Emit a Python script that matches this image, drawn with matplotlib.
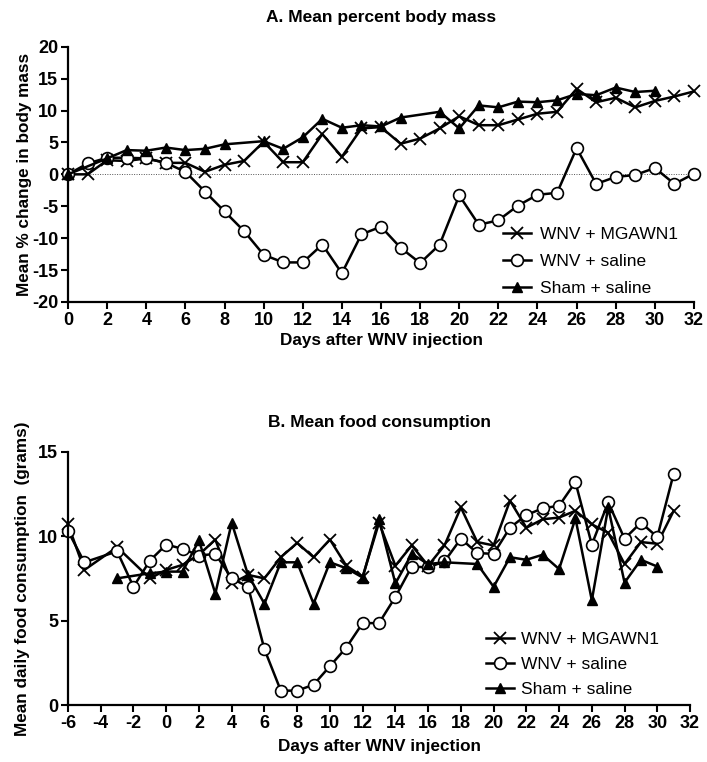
import matplotlib
matplotlib.use("Agg")
import matplotlib.pyplot as plt

plt.rcParams.update({
    "font.family": ["Liberation Sans", "DejaVu Sans"],
    "font.size": 12,
    "axes.linewidth": 1.6,
    "axes.unicode_minus": False,
})

# ---- Panel A: mean % change in body mass ----
A_MG_DAYS = list(range(0, 33))
A_MG_VALS = [0, 0, 2.2, 2.1, 2.5, 1.8, 1.8, 0.4, 1.5, 2.1, 5.1, 1.9, 1.9, 6.3, 2.75, 7.2,
             7.4, 4.8, 5.6, 7.2, 9.1, 7.7, 7.7, 8.6, 9.5, 9.8, 13.4, 11.3, 12.0, 10.5,
             11.5, 12.2, 13.0]

A_SAL_DAYS = list(range(0, 33))
A_SAL_VALS = [0, 1.7, 2.6, 2.6, 2.5, 1.8, 0.4, -2.7, -5.8, -8.9, -12.6, -13.8, -13.8,
              -11.0, -15.5, -9.4, -8.2, -11.5, -13.9, -11.0, -3.3, -7.9, -7.2, -4.9,
              -3.2, -2.9, 4.1, -1.5, -0.4, -0.1, 1.0, -1.5, 0.1]

A_SHAM_DAYS = [0, 2, 3, 4, 5, 6, 7, 8, 10, 11, 12, 13, 14, 15, 16, 17, 19, 20, 21, 22,
               23, 24, 25, 26, 27, 28, 29, 30]
A_SHAM_VALS = [0, 2.5, 3.8, 3.7, 4.2, 3.8, 4.0, 4.7, 5.2, 4.0, 5.8, 8.7, 7.3, 7.7, 7.5,
               8.9, 9.8, 7.2, 10.8, 10.5, 11.4, 11.3, 11.6, 12.6, 12.4, 13.6, 12.9, 13.1]

# ---- Panel B: mean daily food consumption ----
B_MG_DAYS = [-6, -5, -3, -1, 0, 1, 2, 3, 4, 5, 6, 7, 8, 9, 10, 11, 12, 13, 14, 15, 16,
             17, 18, 19, 20, 21, 22, 23, 24, 25, 26, 27, 28, 29, 30, 31]
B_MG_VALS = [10.7, 8.0, 9.35, 7.5, 8.0, 8.3, 8.9, 9.8, 7.2, 7.7, 7.5, 8.75, 9.6, 8.75,
             9.8, 8.25, 7.6, 10.8, 8.25, 9.45, 8.25, 9.45, 11.7, 9.65, 9.45, 12.1, 10.5,
             11.0, 11.1, 11.5, 10.7, 10.2, 8.35, 9.65, 9.55, 11.5]

B_SAL_DAYS = [-6, -5, -3, -2, -1, 0, 1, 2, 3, 4, 5, 6, 7, 8, 9, 10, 11, 12, 13, 14, 15,
              16, 17, 18, 19, 20, 21, 22, 23, 24, 25, 26, 27, 28, 29, 30, 31]
B_SAL_VALS = [10.3, 8.45, 9.1, 7.0, 8.55, 9.5, 9.25, 8.85, 8.95, 7.5, 7.0, 3.3, 0.85,
              0.85, 1.2, 2.3, 3.4, 4.85, 4.85, 6.4, 8.2, 8.15, 8.5, 9.85, 9.0, 8.95,
              10.5, 11.25, 11.65, 11.8, 13.2, 9.5, 12.0, 9.85, 10.8, 9.95, 13.7]

B_SHAM_DAYS = [-3, -1, 0, 1, 2, 3, 4, 5, 6, 7, 8, 9, 10, 11, 12, 13, 14, 15, 16, 17, 19,
               20, 21, 22, 23, 24, 25, 26, 27, 28, 29, 30]
B_SHAM_VALS = [7.5, 7.8, 7.9, 7.9, 9.75, 6.6, 10.8, 7.7, 6.0, 8.45, 8.45, 6.0, 8.45,
               8.1, 7.55, 11.0, 7.2, 8.95, 8.35, 8.45, 8.35, 7.0, 8.75, 8.6, 8.9, 8.05,
               11.05, 6.2, 11.7, 7.25, 8.6, 8.2]

LABELS = ["WNV + MGAWN1", "WNV + saline", "Sham + saline"]

LINE_KW = dict(color="black", lw=1.8)
MG_KW = dict(marker="x", ms=8.5, mew=1.3, mec="black")
SAL_KW = dict(marker="o", ms=8.5, mew=1.2, mec="black", mfc="white")
SHAM_KW = dict(marker="^", ms=7, mec="black", mfc="black")


def style_axes(ax):
    for side in ("top", "right"):
        ax.spines[side].set_visible(False)
    ax.tick_params(direction="out", length=5, width=1.5, pad=2)
    for lab in ax.get_xticklabels() + ax.get_yticklabels():
        lab.set_fontweight("bold")
        lab.set_fontsize(13)


def draw(ax, series):
    for (days, vals), kw, lab in zip(series, (MG_KW, SAL_KW, SHAM_KW), LABELS):
        ax.plot(days, vals, label=lab, clip_on=False, **LINE_KW, **kw)


fig = plt.figure(figsize=(7.07, 7.62), dpi=100)

# Panel A
axA = fig.add_axes([0.0962, 0.6037, 0.8854, 0.3350])
axA.axhline(0, color="#555555", lw=0.7, ls=(0, (1, 1.5)))
draw(axA, [(A_MG_DAYS, A_MG_VALS), (A_SAL_DAYS, A_SAL_VALS), (A_SHAM_DAYS, A_SHAM_VALS)])
axA.set_xlim(0, 32)
axA.set_ylim(-20, 20)
axA.set_xticks(range(0, 33, 2))
axA.set_yticks(range(-20, 21, 5))
style_axes(axA)
axA.set_xlabel("Days after WNV injection", fontweight="bold", fontsize=12.3, labelpad=3)
axA.set_ylabel("Mean % change in body mass", fontweight="bold", fontsize=12.3, labelpad=0)
axA.set_title("A. Mean percent body mass", fontweight="bold", fontsize=12.5, pad=18)
axA.legend(loc="center left", bbox_to_anchor=(0.695, 0.16), frameon=False,
           handlelength=1.6, handletextpad=0.5, labelspacing=0.68,
           borderpad=0, borderaxespad=0, fontsize=12.5)

# Panel B
axB = fig.add_axes([0.0962, 0.0748, 0.8798, 0.3324])
draw(axB, [(B_MG_DAYS, B_MG_VALS), (B_SAL_DAYS, B_SAL_VALS), (B_SHAM_DAYS, B_SHAM_VALS)])
axB.set_xlim(-6, 32)
axB.set_ylim(0, 15)
axB.set_xticks(range(-6, 33, 2))
axB.set_yticks([0, 5, 10, 15])
style_axes(axB)
axB.set_xlabel("Days after WNV injection", fontweight="bold", fontsize=12.3, labelpad=5)
axB.set_ylabel("Mean daily food consumption  (grams)", fontweight="bold", fontsize=12.3,
               labelpad=6)
axB.set_title("B. Mean food consumption", fontweight="bold", fontsize=12.5, pad=18)
axB.legend(loc="center left", bbox_to_anchor=(0.672, 0.16), frameon=False,
           handlelength=1.6, handletextpad=0.4, labelspacing=0.55,
           borderpad=0, borderaxespad=0, fontsize=12.5)

fig.savefig("out.png", dpi=100)
